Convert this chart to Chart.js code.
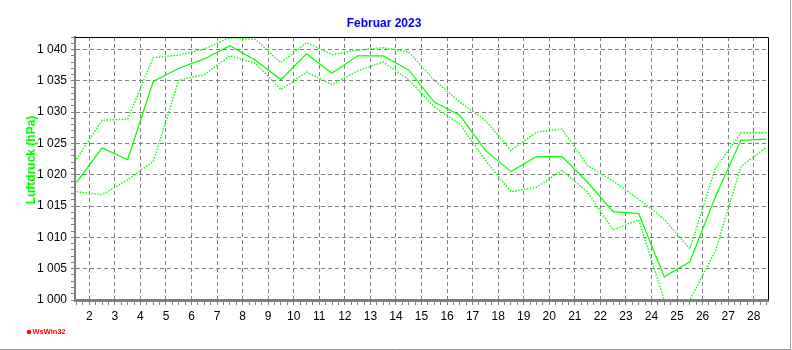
<!DOCTYPE html>
<html>
<head>
<meta charset="utf-8">
<script src="https://cdn.jsdelivr.net/npm/chart.js@4/dist/chart.umd.min.js"></script>
<style>
  html, body { margin: 0; padding: 0; background: #fff; }
  #wrap { position: relative; width: 792px; height: 350px; }
</style>
</head>
<body>
<div id="wrap"><canvas id="chart"></canvas></div>
<script>
// daily values are plotted at mid-day
const days = [1.5, 2.5, 3.5, 4.5, 5.5, 6.5, 7.5, 8.5, 9.5, 10.5, 11.5, 12.5, 13.5, 14.5,
  15.5, 16.5, 17.5, 18.5, 19.5, 20.5, 21.5, 22.5, 23.5, 24.5, 25.5, 26.5, 27.5, 28.5];

const pressureMean = [1018.8, 1024.3, 1022.4, 1034.9, 1037.0, 1038.5, 1040.6, 1038.3, 1035.2, 1039.3,
  1036.2, 1039.0, 1039.0, 1036.7, 1031.6, 1029.5, 1023.9, 1020.5, 1022.9, 1022.9,
  1018.8, 1014.1, 1013.8, 1003.7, 1006.1, 1016.5, 1025.5, 1025.7];

const pressureMax = [1022.5, 1028.7, 1028.9, 1038.7, 1039.1, 1040.1, 1041.9, 1041.6, 1037.9, 1041.1,
  1039.2, 1039.9, 1040.3, 1039.6, 1035.1, 1031.6, 1028.7, 1023.9, 1026.8, 1027.3,
  1021.5, 1019.0, 1016.1, 1012.9, 1008.2, 1021.0, 1026.7, 1026.7];

const pressureMin = [1017.3, 1016.8, 1019.2, 1022.1, 1035.1, 1036.0, 1039.0, 1037.8, 1033.6, 1036.4,
  1034.4, 1036.6, 1038.0, 1035.2, 1030.8, 1028.1, 1022.3, 1017.3, 1018.0, 1020.7,
  1017.2, 1011.2, 1012.8, 1000.0, 1000.0, 1007.8, 1021.3, 1024.4];

const xTickDays = [2, 3, 4, 5, 6, 7, 8, 9, 10, 11, 12, 13, 14, 15, 16, 17, 18, 19, 20,
  21, 22, 23, 24, 25, 26, 27, 28];
const yTickValues = [1000, 1005, 1010, 1015, 1020, 1025, 1030, 1035, 1040];

const gridGray = '#808080';
const green = '#00ff00';
const fontFamily = '"Liberation Sans", Arial, sans-serif';

const isWhole = v => Math.abs(v - Math.round(v)) < 1e-6;
const points = arr => days.map((d, i) => ({ x: d, y: arr[i] }));
const fmtHpa = v => String(v).replace(/\B(?=(\d{3})+(?!\d))/g, ' ');

// frame, y title and logo
const extras = {
  id: 'extras',
  afterDraw(chart) {
    const { ctx, chartArea: a } = chart;
    ctx.save();

    ctx.strokeStyle = '#000';
    ctx.lineWidth = 1;
    ctx.beginPath();
    ctx.moveTo(a.left, Math.round(a.top) + 0.5);
    ctx.lineTo(Math.round(a.right) + 0.5, Math.round(a.top) + 0.5);
    ctx.lineTo(Math.round(a.right) + 0.5, a.bottom);
    ctx.stroke();

    ctx.strokeStyle = '#a0a0a0';
    ctx.beginPath();
    ctx.moveTo(790.5, 0);
    ctx.lineTo(790.5, 349.5);
    ctx.lineTo(0, 349.5);
    ctx.stroke();

    ctx.save();
    ctx.translate(31.5, 160);
    ctx.rotate(-Math.PI / 2);
    ctx.font = 'bold 12px ' + fontFamily;
    ctx.fillStyle = green;
    ctx.textAlign = 'center';
    ctx.textBaseline = 'middle';
    ctx.fillText('Luftdruck (hPa)', 0, 0);
    ctx.restore();

    ctx.fillStyle = '#ff0000';
    ctx.beginPath();
    ctx.arc(29, 332, 2.2, 0, Math.PI * 2);
    ctx.fill();
    ctx.font = 'bold 7.5px ' + fontFamily;
    ctx.textBaseline = 'middle';
    ctx.fillText('WsWin32', 32.5, 332);

    ctx.restore();
  }
};

const ctx = document.getElementById('chart').getContext('2d');
new Chart(ctx, {
  type: 'line',
  data: {
    datasets: [
      { data: points(pressureMax), borderColor: green, borderWidth: 1.4, borderDash: [1.5, 1.5] },
      { data: points(pressureMin), borderColor: green, borderWidth: 1.4, borderDash: [1.5, 1.5] },
      { data: points(pressureMean), borderColor: green, borderWidth: 1.2 },
    ],
  },
  options: {
    responsive: true,
    maintainAspectRatio: false,
    animation: false,
    devicePixelRatio: 1,
    elements: { point: { radius: 0 }, line: { tension: 0 } },
    layout: { padding: { left: 0, right: 24, top: 0, bottom: 0 } },
    plugins: {
      legend: { display: false },
      tooltip: { enabled: false },
      title: {
        display: true,
        text: 'Februar 2023',
        color: '#0000ff',
        font: { family: fontFamily, size: 12, weight: 'bold' },
        padding: { top: 16, bottom: 6.6 },
      },
    },
    scales: {
      x: {
        type: 'linear',
        min: 1.44,
        max: 28.56,
        afterFit: s => { s.height = 50; },
        border: { color: gridGray, width: 3, dash: [4, 3] },
        grid: {
          color: c => (c.tick && isWhole(c.tick.value)) ? gridGray : 'rgba(0,0,0,0)',
          tickColor: gridGray,
          tickLength: 5,
          lineWidth: 1,
        },
        ticks: {
          stepSize: 0.25,
          autoSkip: false,
          maxRotation: 0,
          includeBounds: false,
          padding: 4,
          color: '#000',
          font: { family: fontFamily, size: 12 },
          callback: v => (isWhole(v) && xTickDays.includes(Math.round(v))) ? String(Math.round(v)) : '',
        },
      },
      y: {
        min: 1000,
        max: 1042,
        afterFit: s => { s.width = 75; },
        border: { color: gridGray, width: 2, dash: [4, 3] },
        grid: {
          color: c => (c.tick && c.tick.value % 5 === 0 && c.tick.value !== 1000) ? gridGray : 'rgba(0,0,0,0)',
          tickColor: gridGray,
          tickLength: 4,
          lineWidth: 1,
        },
        ticks: {
          stepSize: 1,
          autoSkip: false,
          includeBounds: false,
          padding: 4,
          color: '#000',
          font: { family: fontFamily, size: 12 },
          callback: v => yTickValues.includes(v) ? fmtHpa(v) : '',
        },
      },
    },
  },
  plugins: [extras],
});
</script>
</body>
</html>
